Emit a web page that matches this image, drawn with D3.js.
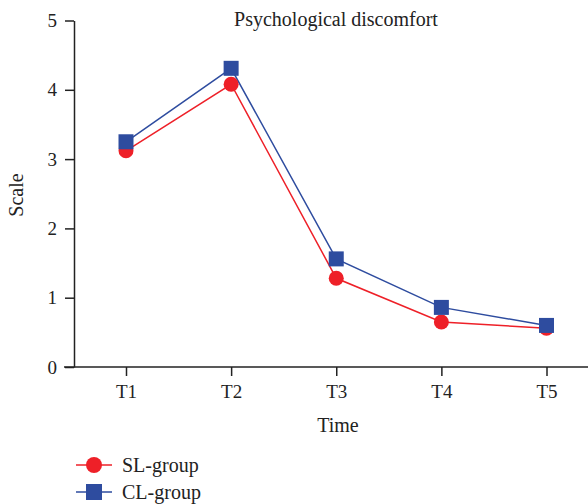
<!DOCTYPE html>
<html><head><meta charset="utf-8">
<script src="https://cdn.jsdelivr.net/npm/d3@7"></script>
<style>body{margin:0;background:#fff}svg{display:block}text{font-family:"Liberation Serif","DejaVu Serif",serif;fill:#222}</style>
</head><body><svg id="c" width="588" height="504"></svg>
<script>
const categories = ["T1","T2","T3","T4","T5"];
const slGroup = [3.12, 4.08, 1.28, 0.65, 0.56];
const clGroup = [3.25, 4.31, 1.56, 0.86, 0.60];
const yTicks = [0,1,2,3,4,5];
const seriesNames = ["SL-group","CL-group"];
const colors = ["#ee2028","#2e4c9f"];

const svg = d3.select("#c");
const x = d3.scalePoint().domain(categories).range([126, 546.5]);
const y = d3.scaleLinear().domain([0,5]).range([367, 20.5]);

// y axis
const ya = svg.append("g").attr("transform","translate(74,0)")
  .call(d3.axisLeft(y).tickValues(yTicks).tickFormat(d3.format("d")).tickSize(9).tickPadding(8).tickSizeOuter(0));
ya.select(".domain").attr("stroke","#222").attr("stroke-width",1.5);
ya.selectAll(".tick line").attr("stroke","#222").attr("stroke-width",1.5);
ya.selectAll("text").style("font-size","19px").style("font-family","Liberation Serif").attr("fill","#222");

// x axis
const xa = svg.append("g").attr("transform","translate(0,367)")
  .call(d3.axisBottom(x).tickSize(9).tickPadding(9).tickSizeOuter(0));
xa.select(".domain").attr("d","M64,0H588").attr("stroke","#222").attr("stroke-width",1.5);
xa.selectAll(".tick line").attr("stroke","#222").attr("stroke-width",1.5);
xa.selectAll("text").style("font-size","19px").style("font-family","Liberation Serif").attr("fill","#222");

// labels
svg.append("text").attr("x",336).attr("y",26).attr("text-anchor","middle").style("font-size","20px").text("Psychological discomfort");
svg.append("text").attr("x",338).attr("y",432).attr("text-anchor","middle").style("font-size","20px").text("Time");
svg.append("text").attr("transform","translate(23,195) rotate(-90)").attr("text-anchor","middle").style("font-size","20px").text("Scale");

const line = d3.line().x((d,i)=>x(categories[i])).y(d=>y(d));
const data = [slGroup, clGroup];
data.forEach((vals,k)=>{
  svg.append("path").attr("d",line(vals)).attr("fill","none").attr("stroke",colors[k]).attr("stroke-width",1.5);
});
// markers
svg.append("g").selectAll("circle").data(slGroup).join("circle")
  .attr("cx",(d,i)=>x(categories[i])).attr("cy",d=>y(d)).attr("r",7.5).attr("fill",colors[0]);
svg.append("g").selectAll("rect").data(clGroup).join("rect")
  .attr("x",(d,i)=>x(categories[i])-7.5).attr("y",d=>y(d)-7.5).attr("width",15).attr("height",15).attr("fill",colors[1]);

// legend
const lg = svg.append("g");
seriesNames.forEach((n,k)=>{
  const yy = 465 + k*27;
  lg.append("line").attr("x1",76).attr("x2",112).attr("y1",yy).attr("y2",yy).attr("stroke",colors[k]).attr("stroke-width",1.5);
  if(k===0) lg.append("circle").attr("cx",94).attr("cy",yy).attr("r",8).attr("fill",colors[0]);
  else lg.append("rect").attr("x",86).attr("y",yy-8).attr("width",16).attr("height",16).attr("fill",colors[1]);
  lg.append("text").attr("x",122).attr("y",yy+7).style("font-size","20px").text(n);
});
</script></body></html>
